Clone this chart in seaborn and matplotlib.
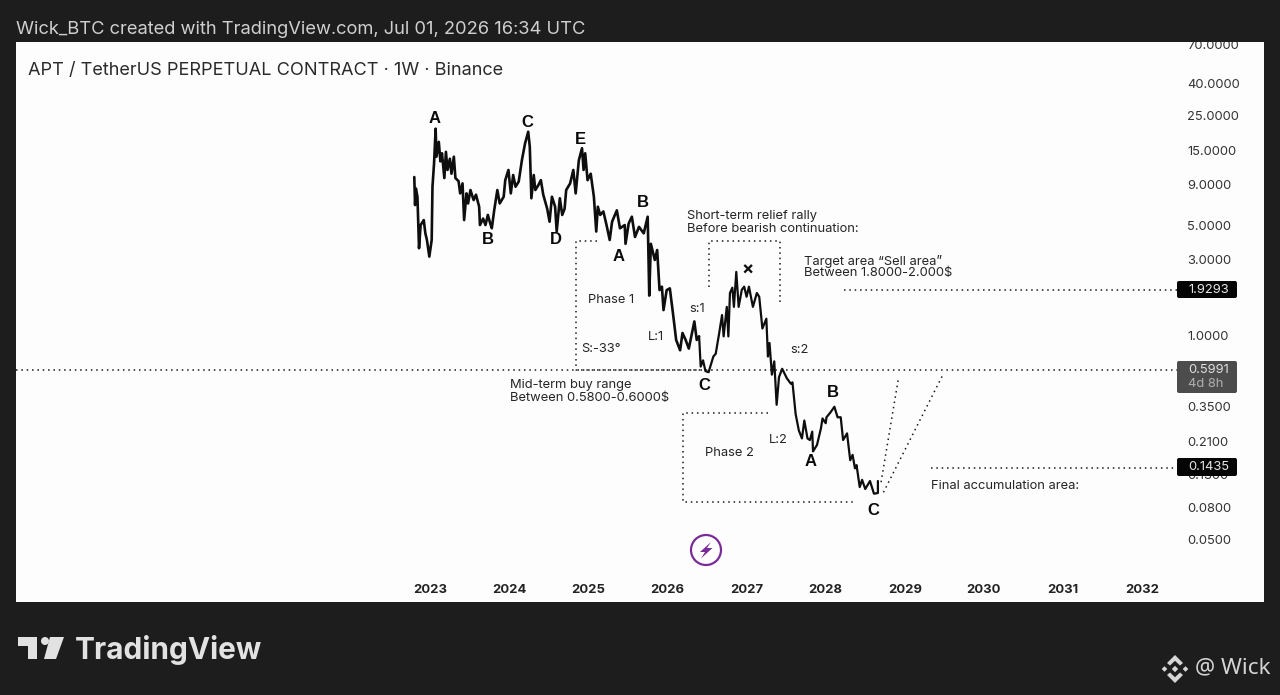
import numpy as np
import pandas as pd
import matplotlib
matplotlib.use("Agg")
import matplotlib.pyplot as plt
import seaborn as sns
from matplotlib.patches import Polygon, Circle, FancyBboxPatch
from matplotlib.transforms import Affine2D

# ---------- data ----------
hist_years = [2022.80,2022.81,2022.82,2022.84,2022.86,2022.88,2022.92,2022.94,2022.96,2022.99,2023.02,2023.03,2023.05,2023.07,2023.08,2023.11,2023.13,2023.15,2023.18,2023.20,2023.22,2023.25,2023.27,2023.30,2023.32,2023.36,2023.38,2023.41,2023.43,2023.46,2023.48,2023.51,2023.55,2023.58,2023.62,2023.63,2023.67,2023.70,2023.73,2023.76,2023.78,2023.81,2023.85,2023.88,2023.93,2023.95,2023.99,2024.02,2024.05,2024.08,2024.12,2024.16,2024.20,2024.24,2024.26,2024.28,2024.31,2024.33,2024.37,2024.40,2024.43,2024.48,2024.51,2024.54,2024.58,2024.60,2024.64,2024.67,2024.70,2024.72,2024.77,2024.81,2024.84,2024.88,2024.92,2024.94,2024.96,2024.99,2025.03,2025.07,2025.10,2025.12,2025.15,2025.19,2025.23,2025.27,2025.30,2025.36,2025.40,2025.46,2025.47,2025.51,2025.55,2025.59,2025.64,2025.70,2025.75,2025.77,2025.79,2025.84,2025.87,2025.90,2025.93,2025.95,2025.99,2026.03,2026.07,2026.11,2026.16,2026.19,2026.23,2026.27,2026.34,2026.37,2026.40]
hist_prices = [10.1,6.7,8.55,7.57,3.56,5.0,5.38,4.43,4.02,3.15,4.02,8.76,12.34,20.5,13.6,16.9,12.7,14.3,9.95,14.6,11.2,13.2,10.6,13.6,9.95,9.5,7.95,9.2,5.38,7.95,6.86,8.35,7.21,7.8,6.54,5.0,5.5,5.0,5.8,5.12,4.77,6.2,8.35,6.86,7.57,9.65,11.2,7.95,10.4,8.76,9.45,12.9,16.5,19.6,15.7,7.4,10.4,8.35,9.0,9.65,7.8,6.35,5.25,7.57,6.54,4.55,7.4,5.8,6.35,8.35,9.2,11.2,7.95,12.9,15.4,11.2,14.3,9.65,10.6,7.57,4.55,6.54,5.8,6.1,5.0,4.02,5.25,6.2,4.77,5.0,3.8,5.12,5.65,4.2,4.87,4.43,5.65,1.78,3.8,3.0,3.47,1.93,2.03,1.44,1.93,1.98,1.37,0.93,0.80,1.03,0.93,0.82,1.22,0.93,0.98]

path_years = [2026.40,2026.42,2026.45,2026.48,2026.52,2026.58,2026.61,2026.65,2026.69,2026.71,2026.75,2026.77,2026.79,2026.82,2026.84,2026.87,2026.90,2026.94,2026.97,2027.00,2027.03,2027.08,2027.13,2027.16,2027.20,2027.25,2027.27,2027.29,2027.32,2027.35,2027.38,2027.41,2027.45,2027.51,2027.56,2027.58,2027.62,2027.66,2027.70,2027.73,2027.77,2027.80,2027.83,2027.84,2027.89,2027.94,2027.96,2028.00,2028.01,2028.06,2028.11,2028.15,2028.19,2028.22,2028.27,2028.31,2028.34,2028.37,2028.39,2028.43,2028.46,2028.50,2028.56,2028.61,2028.66,2028.66]
path_prices = [0.98,0.63,0.69,0.59,0.58,0.73,0.76,1.0,1.34,0.98,1.51,0.98,1.85,2.0,1.51,2.52,1.51,1.94,2.03,1.75,2.03,1.51,1.85,1.75,1.10,1.27,0.73,0.89,0.56,0.68,0.36,0.54,0.61,0.53,0.49,0.50,0.315,0.248,0.22,0.286,0.22,0.215,0.243,0.182,0.20,0.255,0.295,0.275,0.30,0.322,0.35,0.30,0.30,0.215,0.237,0.16,0.173,0.142,0.149,0.108,0.12,0.105,0.118,0.098,0.099,0.118]

y_ticks = [70, 40, 25, 15, 9, 5, 3, 1, 0.35, 0.21, 0.13, 0.08, 0.05]
x_ticks = [2023, 2024, 2025, 2026, 2027, 2028, 2029, 2030, 2031, 2032]

level_sell = 1.9293
level_now = 0.5991
level_low = 0.1435

box1_years = [2025.11, 2024.84, 2024.84, 2026.42]
box1_prices = [3.96, 3.96, 0.5991, 0.5991]
box2_years = [2026.52, 2026.52, 2027.42, 2027.42]
box2_prices = [2.02, 3.96, 3.96, 1.60]
box3_years = [2027.27, 2026.20, 2026.20, 2028.34]
box3_prices = [0.319, 0.319, 0.0874, 0.0874]
proj1_years = [2028.70, 2028.92]
proj1_prices = [0.116, 0.533]
proj2_years = [2028.73, 2029.48]
proj2_prices = [0.100, 0.557]

# ---------- figure ----------
sns.set_theme(style="white")
plt.rcParams['font.family'] = ['Inter', 'DejaVu Sans']
BG = "#1d1d1d"
W, H = 1280, 695
fig = plt.figure(figsize=(W/100, H/100), dpi=100, facecolor=BG)
ax = fig.add_axes([16/W, 1-602/H, (1264-16)/W, (602-42)/H], facecolor="#fdfdfd")
PX = Affine2D().scale(1, -1).translate(0, H)

ax.set_yscale("log")
INK = "#0e0e0e"
df1 = pd.DataFrame({"year": hist_years, "price": hist_prices})
df2 = pd.DataFrame({"year": path_years, "price": path_prices})
sns.lineplot(data=df1, x="year", y="price", estimator=None, sort=False, ax=ax, color=INK, lw=1.9)
sns.lineplot(data=df2, x="year", y="price", estimator=None, sort=False, ax=ax, color=INK, lw=1.6)

dot = dict(color="#1a1a1a", lw=1.1, linestyle=(0, (1, 2.5)), zorder=2)
x_left = 2017.76
x_badge = 2032.47
ax.plot([x_left, x_badge], [level_now, level_now], **dot)
ax.plot([2028.23, x_badge], [level_sell, level_sell], **dot)
ax.plot([2029.33, x_badge], [level_low, level_low], **dot)
for xs, ys in [(box1_years, box1_prices), (box2_years, box2_prices), (box3_years, box3_prices),
               (proj1_years, proj1_prices), (proj2_years, proj2_prices)]:
    ax.plot(xs, ys, **dot)

ax.set_xlim(2017.766, 2033.54)
ax.set_ylim(0.02008, 72.9)
ax.set_xlabel("")
ax.set_ylabel("")
sns.despine(ax=ax, left=True, bottom=True, right=True, top=True)
ax.grid(False)

ax.minorticks_off()
ax.yaxis.tick_right()
ax.set_yticks(y_ticks)
ax.set_yticklabels([f"{v:.4f}" for v in y_ticks])
ax.tick_params(axis="y", length=0, pad=-77*0.72, labelsize=9.3, labelcolor="#333333")
ax.yaxis.set_minor_locator(matplotlib.ticker.NullLocator())
ax.set_xticks(x_ticks)
ax.set_xticklabels([str(v) for v in x_ticks], fontweight="bold")
ax.tick_params(axis="x", length=0, pad=-18*0.72, labelsize=9.4, labelcolor="#222222")
for lbl in ax.get_yticklabels():
    lbl.set_clip_on(True)
    lbl.set_clip_box(ax.bbox)

def T(x, y, s, size=9.3, color="#262626", weight="normal", ha="left", family=None, z=5):
    kw = {"family": family} if family else {}
    return fig.text(x, y + 1.3, s, transform=PX, fontsize=size, color=color, fontweight=weight,
                    ha=ha, va="center", zorder=z, **kw)

T(16, 28, "Wick_BTC created with TradingView.com, Jul 01, 2026 16:34 UTC", size=13.2, color="#cfcfcf")
T(28, 69, "APT / TetherUS PERPETUAL CONTRACT · 1W · Binance", size=13.05, color="#2a2a2a")

for (x, y, s) in [(435,118,"A"),(527,122,"C"),(580,139,"E"),(488,239,"B"),(556,239,"D"),(643,202,"B"),
                  (619,256,"A"),(704,385,"C"),(833,392,"B"),(811,461,"A"),(873,510,"C")]:
    T(x, y - 0.5, s, size=12, color="#0a0a0a", weight="bold", ha="center", family="Liberation Sans")
T(748, 269, "×", size=13, color="#111111", weight="bold", ha="center")

for (x, y, s) in [(687,215,"Short-term relief rally"),(687,228,"Before bearish continuation:"),
                  (804,260,"Target area “Sell area”"),(804,272,"Between 1.8000-2.000$"),
                  (588,299,"Phase 1"),(581,348,"S:-33°"),(648,336,"L:1"),(689,308,"s:1"),
                  (790,349,"s:2"),(510,384,"Mid-term buy range"),(510,397,"Between 0.5800-0.6000$"),
                  (705,452,"Phase 2"),(769,439,"L:2"),(931,485,"Final accumulation area:")]:
    T(x, y, s)

# price badges
def badge(y0, y1, color):
    fig.add_artist(FancyBboxPatch((1178, y0+1), 58, y1-y0-2, boxstyle="round,pad=1,rounding_size=2",
                                  transform=PX, fc=color, ec="none", zorder=4))
badge(281, 298, "#050505")
T(1188, 289, f"{level_sell:.4f}", size=9.3, color="#e6e6e6")
badge(361, 393, "#4c4c4c")
T(1188, 369, f"{level_now:.4f}", size=9.3, color="#e0e0e0")
T(1188, 383, "4d 8h", size=9.3, color="#b0b0b0")
badge(458, 476, "#050505")
T(1188, 466, f"{level_low:.4f}", size=9.3, color="#e6e6e6")

# lightning icon
PURPLE = "#7a2c96"
fig.add_artist(Circle((706, 550), 15, transform=PX, fc="#ffffff", ec=PURPLE, lw=1.6, zorder=4))
fig.add_artist(Polygon([(711,542),(700,552),(705,552),(701,558.5),(712.5,548),(707,548)],
                       closed=True, transform=PX, fc=PURPLE, ec="none", zorder=5))

# TradingView mark
LOGO = "#e2e2e2"
fig.add_artist(Polygon([(18,637),(37,637),(37,659),(28,659),(28,646),(18,646)], closed=True,
                       transform=PX, fc=LOGO, ec="none"))
fig.add_artist(Circle((45,641), 4, transform=PX, fc=LOGO, ec="none"))
fig.add_artist(Polygon([(50,637),(64,637),(56,659),(44,659)], closed=True, transform=PX, fc=LOGO, ec="none"))
T(75, 649, "TradingView", size=21.5, color=LOGO, weight="bold", family="Inter")

# Exchange mark
cx, cy = 1175, 669
def poly(pts):
    fig.add_artist(Polygon([(cx+a, cy+b) for a, b in pts], closed=True, transform=PX, fc="#d6d6d6", ec="none"))
chev = [(0,-14),(8,-6),(5,-3.5),(0,-8.2),(-5,-3.5),(-8,-6)]
poly(chev)
poly([(a, -b) for a, b in chev])
poly([(0,-3.2),(3.2,0),(0,3.2),(-3.2,0)])
poly([(-10.5,-2.8),(-7.7,0),(-10.5,2.8),(-13.3,0)])
poly([(10.5,-2.8),(13.3,0),(10.5,2.8),(7.7,0)])
T(1195, 667, "@ Wick", size=16.2, color="#d4d4d4", family="Noto Sans")

fig.savefig("out.png", dpi=100, facecolor=BG)
